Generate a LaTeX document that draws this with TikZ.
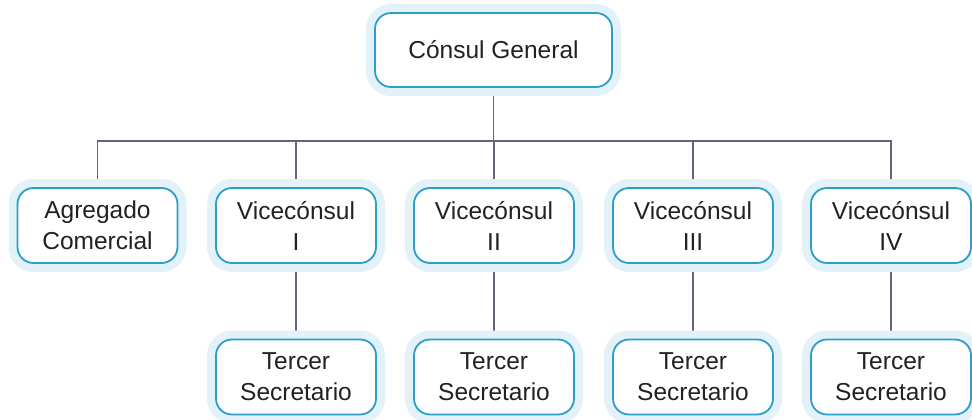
\documentclass[tikz,border=0pt]{standalone}
\usepackage{fontspec}
\setmainfont{Liberation Sans}
\usetikzlibrary{backgrounds}
\definecolor{boxline}{HTML}{2A9FC9}
\definecolor{halo}{HTML}{E3F1F9}
\definecolor{conn}{HTML}{6A6180}
\definecolor{txt}{HTML}{222222}
\tikzset{
  orgbox/.style={draw=boxline, line width=1.8pt, fill=white, rounded corners=16pt,
    minimum width=160pt, minimum height=75pt, inner sep=0pt, align=center,
    text=txt, font=\fontsize{24.5}{31}\selectfont,
    preaction={draw=halo, line width=18pt}},
  connline/.style={draw=conn, line width=1.6pt}
}
\begin{document}
\begin{tikzpicture}[x=1pt,y=-1pt]
\useasboundingbox (0,0) rectangle (972,420);
\node[orgbox, minimum width=237pt, minimum height=74pt] (cg) at (493.5,50) {Cónsul General};
\node[orgbox] (ag) at (97.5,225.5) {Agregado\\Comercial};
\node[orgbox] (v1) at (296,225.5) {Vicecónsul\\I};
\node[orgbox] (v2) at (494,225.5) {Vicecónsul\\II};
\node[orgbox] (v3) at (693,225.5) {Vicecónsul\\III};
\node[orgbox] (v4) at (891,225.5) {Vicecónsul\\IV};
\node[orgbox] (t1) at (296,377) {Tercer\\Secretario};
\node[orgbox] (t2) at (494,377) {Tercer\\Secretario};
\node[orgbox] (t3) at (693,377) {Tercer\\Secretario};
\node[orgbox] (t4) at (891,377) {Tercer\\Secretario};
\coordinate (bus) at (493.5,141);
\begin{scope}[on background layer]
\draw[connline] (cg.south) -- (bus);
\draw[connline] (ag.north) |- (bus) -| (v4.north);
\draw[connline] (v1.north) -- (v1.north |- bus);
\draw[connline] (v2.north) -- (v2.north |- bus);
\draw[connline] (v3.north) -- (v3.north |- bus);
\draw[connline] (v1.south) -- (t1.north);
\draw[connline] (v2.south) -- (t2.north);
\draw[connline] (v3.south) -- (t3.north);
\draw[connline] (v4.south) -- (t4.north);
\end{scope}
\end{tikzpicture}
\end{document}
